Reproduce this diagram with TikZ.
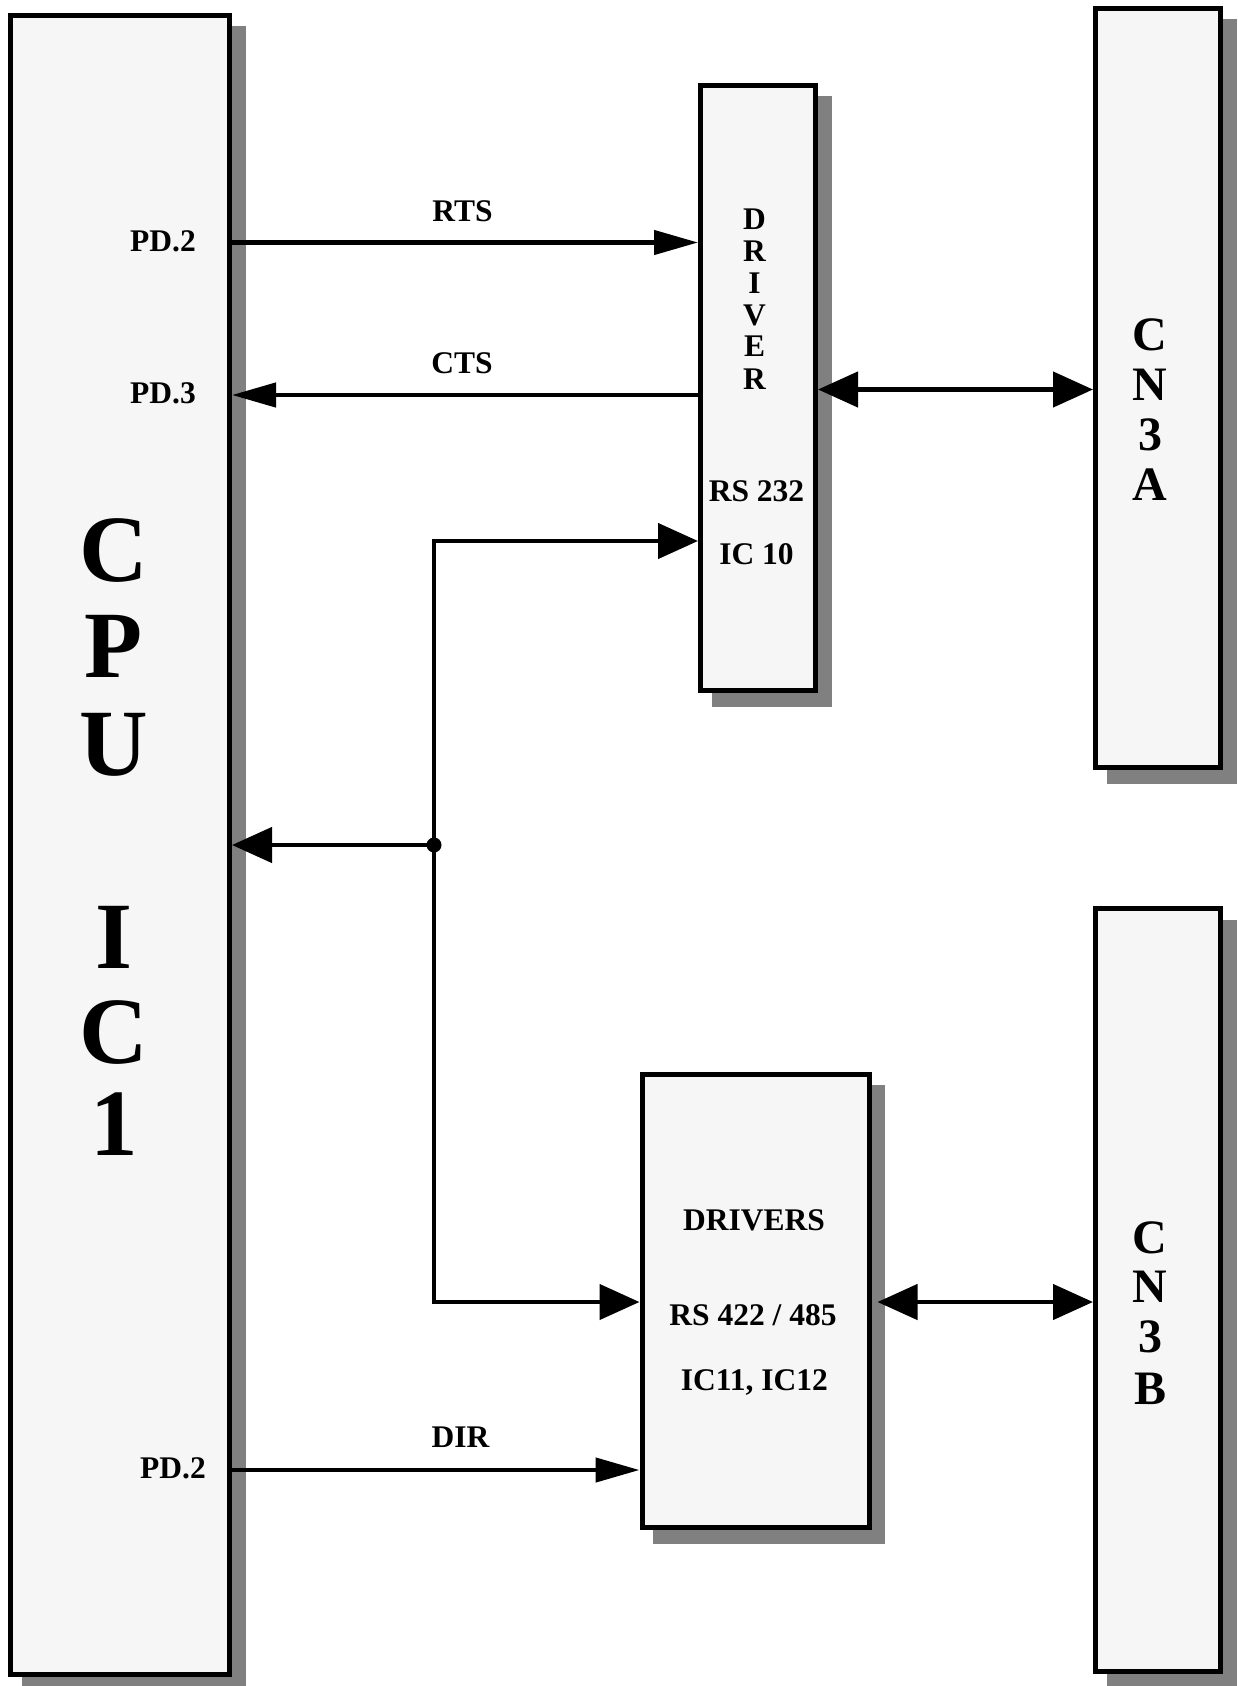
\documentclass[tikz,border=0pt]{standalone}
\usepackage{fontspec}
\setmainfont{Liberation Serif}
\usetikzlibrary{arrows.meta,calc,backgrounds}
\definecolor{boxfill}{HTML}{F6F6F6}
\definecolor{shadowgray}{HTML}{808080}
\begin{document}
\begin{tikzpicture}[x=1pt,y=-1pt,
  blk/.style={draw, line width=5pt, fill=boxfill, inner sep=0pt},
  lbl/.style={font=\bfseries\fontsize{31.5}{36}\selectfont, anchor=base, inner sep=0pt},
  bigl/.style={font=\bfseries\fontsize{95}{100}\selectfont, anchor=base, inner sep=0pt},
  midl/.style={font=\bfseries\fontsize{48}{52}\selectfont, anchor=base, inner sep=0pt},
  conn/.style={line width=4.5pt},
  tipN/.tip={Triangle[length=44pt,width=24pt]},
  tipW/.tip={Triangle[length=40pt,width=35pt]},
]
\useasboundingbox (0,0) rectangle (1237,1686);

% blocks
\node[blk, minimum width=219pt, minimum height=1658.5pt] (cpu) at (120,844.75) {};
\node[blk, minimum width=115pt, minimum height=605.5pt] (drv) at (758,387.75) {};
\node[blk, minimum width=125pt, minimum height=759pt] (cna) at (1158,388) {};
\node[blk, minimum width=125pt, minimum height=762.5pt] (cnb) at (1158,1289.75) {};
\node[blk, minimum width=227pt, minimum height=453.5pt] (drs) at (755.5,1300.75) {};

% shadows
\begin{scope}[on background layer]
\foreach \n in {cpu,drv,cna,cnb,drs}
  \fill[shadowgray] ([shift={(13.5,13.5)}]\n.south west) rectangle ([shift={(13.5,13.5)}]\n.north east);
\end{scope}

% CPU text
\node[bigl] (c1) at (114,581) {C};
\node[bigl] (c2) at (114,677) {P};
\node[bigl] (c3) at (114,775) {U};
\node[bigl] (c4) at (114,968) {I};
\node[bigl] (c5) at (114,1063) {C};
\node[bigl] (c6) at (114,1155) {1};

% DRIVER text
\node[lbl] (d1) at (754.5,229.3) {D};
\node[lbl] (d2) at (754.5,261.7) {R};
\node[lbl] (d3) at (754.5,293.3) {I};
\node[lbl] (d4) at (754.5,325) {V};
\node[lbl] (d5) at (754.5,356.7) {E};
\node[lbl] (d6) at (754.5,389.3) {R};
\node[lbl] (rs1) at (756.5,501.7) {RS 232};
\node[lbl] (ic10) at (756.5,564) {IC 10};

% CN3A / CN3B
\node[midl] (a1) at (1150,350) {C};
\node[midl] (a2) at (1150,400) {N};
\node[midl] (a3) at (1150,450) {3};
\node[midl] (a4) at (1150,500.5) {A};
\node[midl] (b1) at (1150,1253) {C};
\node[midl] (b2) at (1150,1302.5) {N};
\node[midl] (b3) at (1150,1352) {3};
\node[midl] (b4) at (1150,1404) {B};

% DRIVERS text
\node[lbl] (ds1) at (754,1230.5) {DRIVERS};
\node[lbl] (ds2) at (753,1325.7) {RS 422 / 485};
\node[lbl] (ds3) at (754.3,1390) {IC11, IC12};

% signal labels
\node[lbl] (pd2a) at (163,251) {PD.2};
\node[lbl] (pd3) at (163,403) {PD.3};
\node[lbl] (pd2b) at (173,1478.5) {PD.2};
\node[lbl] (rts) at (462.5,221.5) {RTS};
\node[lbl] (cts) at (462,373) {CTS};
\node[lbl] (dir) at (460.5,1447.5) {DIR};

% connectors
\coordinate (yrts) at (0,242.5);
\coordinate (ycts) at (0,395);
\coordinate (ya) at (0,389.5);
\coordinate (ytop) at (434,541);
\coordinate (j) at (434,845);
\coordinate (ybot) at (434,1302);
\coordinate (ydir) at (0,1470);
\coordinate (drsE) at ([xshift=6pt]drs.east);

\draw[conn,-{tipN}] (cpu.east |- yrts) -- (drv.west |- yrts);
\draw[conn,-{tipN}] (drv.west |- ycts) -- (cpu.east |- ycts);
\draw[conn,{tipW}-{tipW}] (drv.east |- ya) -- (cna.west |- ya);
\draw[conn,{tipW}-{tipW}] (drv.west |- ytop) -- (ytop) -- (ybot) -- (drs.west |- ybot);
\draw[conn,-{tipW}] (j) -- (cpu.east |- j);
\fill (j) circle[radius=7.5pt];
\draw[conn,{tipW}-{tipW}] (drsE |- ybot) -- (cnb.west |- ybot);
\draw[conn,-{tipN}] (cpu.east |- ydir) -- (drs.west |- ydir);
\end{tikzpicture}
\end{document}
